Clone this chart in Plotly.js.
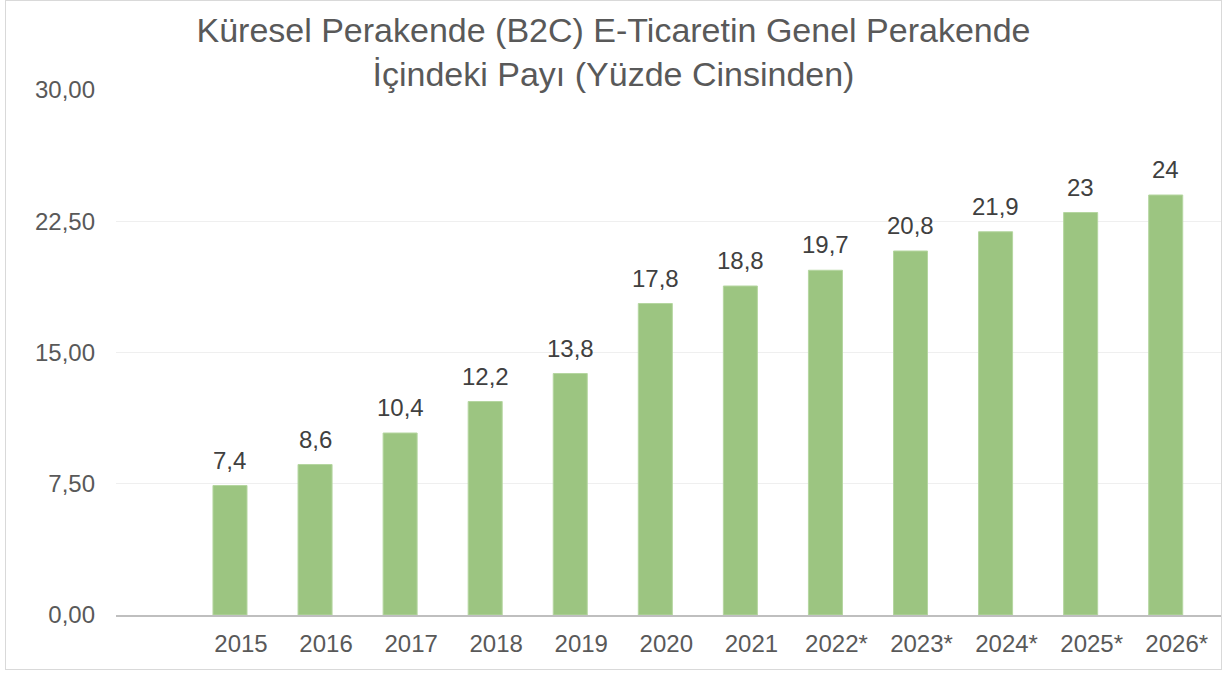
<!DOCTYPE html>
<html>
<head>
<meta charset="utf-8">
<script src="https://cdn.plot.ly/plotly-3.0.1.min.js"></script>
<style>
  html, body { margin: 0; padding: 0; background: #ffffff; }
  #frame { position: absolute; left: 5px; top: 0px; width: 1217px; height: 670px; border: 1.5px solid #d9d9d9; box-sizing: border-box; pointer-events: none; z-index: 2; }
  #chart { position: absolute; left: 0; top: 0; width: 1227px; height: 675px; }
</style>
</head>
<body>
<div id="chart"></div>
<div id="frame"></div>
<script>
const categories = ['2015', '2016', '2017', '2018', '2019', '2020', '2021', '2022*', '2023*', '2024*', '2025*', '2026*'];
const shares = [7.4, 8.6, 10.4, 12.2, 13.8, 17.8, 18.8, 19.7, 20.8, 21.9, 23, 24];
const yTicks = [0, 7.5, 15, 22.5, 30];

const fontFamily = '"Liberation Sans", Arial, sans-serif';

const trace = {
  type: 'bar',
  x: categories,
  y: shares,
  marker: { color: '#9cc581', line: { color: '#b5d6a0', width: 1 } },
  hoverinfo: 'x+y'
};

const annotations = categories.map((c, i) => ({
  x: i,
  y: shares[i],
  xref: 'x',
  yref: 'y',
  text: String(shares[i]).replace('.', ','),
  showarrow: false,
  xanchor: 'center',
  yanchor: 'bottom',
  yshift: 10,
  font: { family: fontFamily, size: 24, color: '#404040' }
}));

const layout = {
  width: 1227,
  height: 675,
  margin: { l: 116, r: 6, t: 90, b: 60 },
  paper_bgcolor: '#ffffff',
  plot_bgcolor: '#ffffff',
  separators: ',.',
  showlegend: false,
  bargap: 0.6,
  title: {
    text: 'Küresel Perakende (B2C) E-Ticaretin Genel Perakende<br>İçindeki Payı (Yüzde Cinsinden)',
    xref: 'container',
    x: 0.5,
    xanchor: 'center',
    yref: 'container',
    y: 1 - 42 / 675,
    yanchor: 'bottom',
    font: { family: fontFamily, size: 34, color: '#595959' }
  },
  xaxis: {
    type: 'category',
    range: [-1.34, 11.65],
    showline: true,
    linecolor: '#bfbfbf',
    linewidth: 2,
    showgrid: false,
    ticks: '',
    ticklabelshift: 11,
    ticklabelstandoff: 6,
    tickfont: { family: fontFamily, size: 24, color: '#595959' },
    fixedrange: true
  },
  yaxis: {
    range: [0, 30],
    tickvals: yTicks,
    tickformat: '.2f',
    showgrid: true,
    gridcolor: '#efefef',
    gridwidth: 1,
    zeroline: false,
    showline: false,
    ticks: '',
    ticklabelstandoff: 20,
    tickfont: { family: fontFamily, size: 24, color: '#595959' },
    fixedrange: true
  },
  annotations: annotations
};

Plotly.newPlot('chart', [trace], layout, { displayModeBar: false, staticPlot: true });
</script>
</body>
</html>
